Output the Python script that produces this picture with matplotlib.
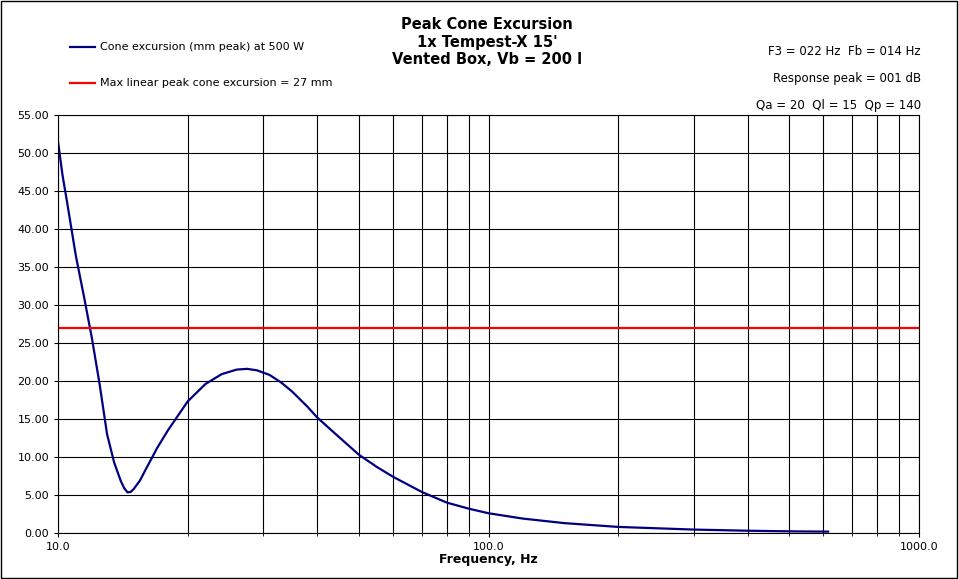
import matplotlib
matplotlib.use('Agg')
import matplotlib.pyplot as plt
from matplotlib.ticker import FixedLocator, NullFormatter
import numpy as np

freq = [10, 10.25, 10.5, 11, 11.5, 12, 12.5, 13, 13.5, 14, 14.25, 14.5, 14.75, 15, 15.5, 16, 17, 18,
        20, 22, 24, 26, 27.5, 29, 31, 33, 35, 38, 40, 45, 50, 55, 60, 70, 80, 90, 100,
        120, 150, 200, 300, 400, 500, 615]
excursion = [51.5, 47.0, 43.5, 36.5, 31.0, 25.5, 19.5, 13.0, 9.3, 6.8, 5.9, 5.35, 5.4, 5.8, 6.9, 8.4, 11.2, 13.5,
             17.3, 19.6, 20.9, 21.5, 21.6, 21.4, 20.8, 19.8, 18.6, 16.6, 15.2, 12.6, 10.3, 8.7, 7.4, 5.4, 4.0, 3.2, 2.6,
             1.9, 1.3, 0.8, 0.45, 0.3, 0.22, 0.18]
xmax_limit = 27

fig = plt.figure(figsize=(9.59, 5.79), dpi=100)
ax = fig.add_axes([58/959, 46/579, 861/959, 418/579])
ax.plot(freq, excursion, color='#000080', lw=1.6)
ax.axhline(xmax_limit, color='red', lw=1.6)

ax.set_xscale('log')
ax.set_xlim(10, 1000)
ax.set_ylim(0, 55)
ax.set_yticks(np.arange(0, 56, 5))
ax.set_yticklabels(['%.2f' % v for v in np.arange(0, 56, 5)])
ax.xaxis.set_major_locator(FixedLocator([10, 100, 1000]))
ax.set_xticklabels(['10.0', '100.0', '1000.0'])
minors = [d * m for d in (10, 100) for m in range(2, 10)]
ax.xaxis.set_minor_locator(FixedLocator(minors))
ax.xaxis.set_minor_formatter(NullFormatter())
ax.grid(True, which='both', color='black', lw=0.8)
ax.tick_params(labelsize=8, length=3)
ax.set_xlabel('Frequency, Hz', fontsize=9, fontweight='bold', labelpad=1)

fig.text(0.508, 0.97, 'Peak Cone Excursion\n1x Tempest-X 15\'\nVented Box, Vb = 200 l',
         ha='center', va='top', fontsize=10.5, fontweight='bold', linespacing=1.2)
fig.text(0.96, 0.905, 'F3 = 022 Hz  Fb = 014 Hz', ha='right', fontsize=8.5)
fig.text(0.96, 0.858, 'Response peak = 001 dB', ha='right', fontsize=8.5)
fig.text(0.96, 0.812, 'Qa = 20  Ql = 15  Qp = 140', ha='right', fontsize=8.5)

fig.add_artist(plt.Line2D([70/959, 95/959], [0.918, 0.918], color='#000080', lw=1.6))
fig.text(100/959, 0.918, 'Cone excursion (mm peak) at 500 W', va='center', fontsize=8)
fig.add_artist(plt.Line2D([70/959, 95/959], [0.856, 0.856], color='red', lw=1.6))
fig.text(100/959, 0.856, 'Max linear peak cone excursion = 27 mm', va='center', fontsize=8)

fig.add_artist(plt.Rectangle((0.001, 0.001), 0.997, 0.997, fill=False, ec='black', lw=1,
                             transform=fig.transFigure))
fig.savefig('out.png', dpi=100)
